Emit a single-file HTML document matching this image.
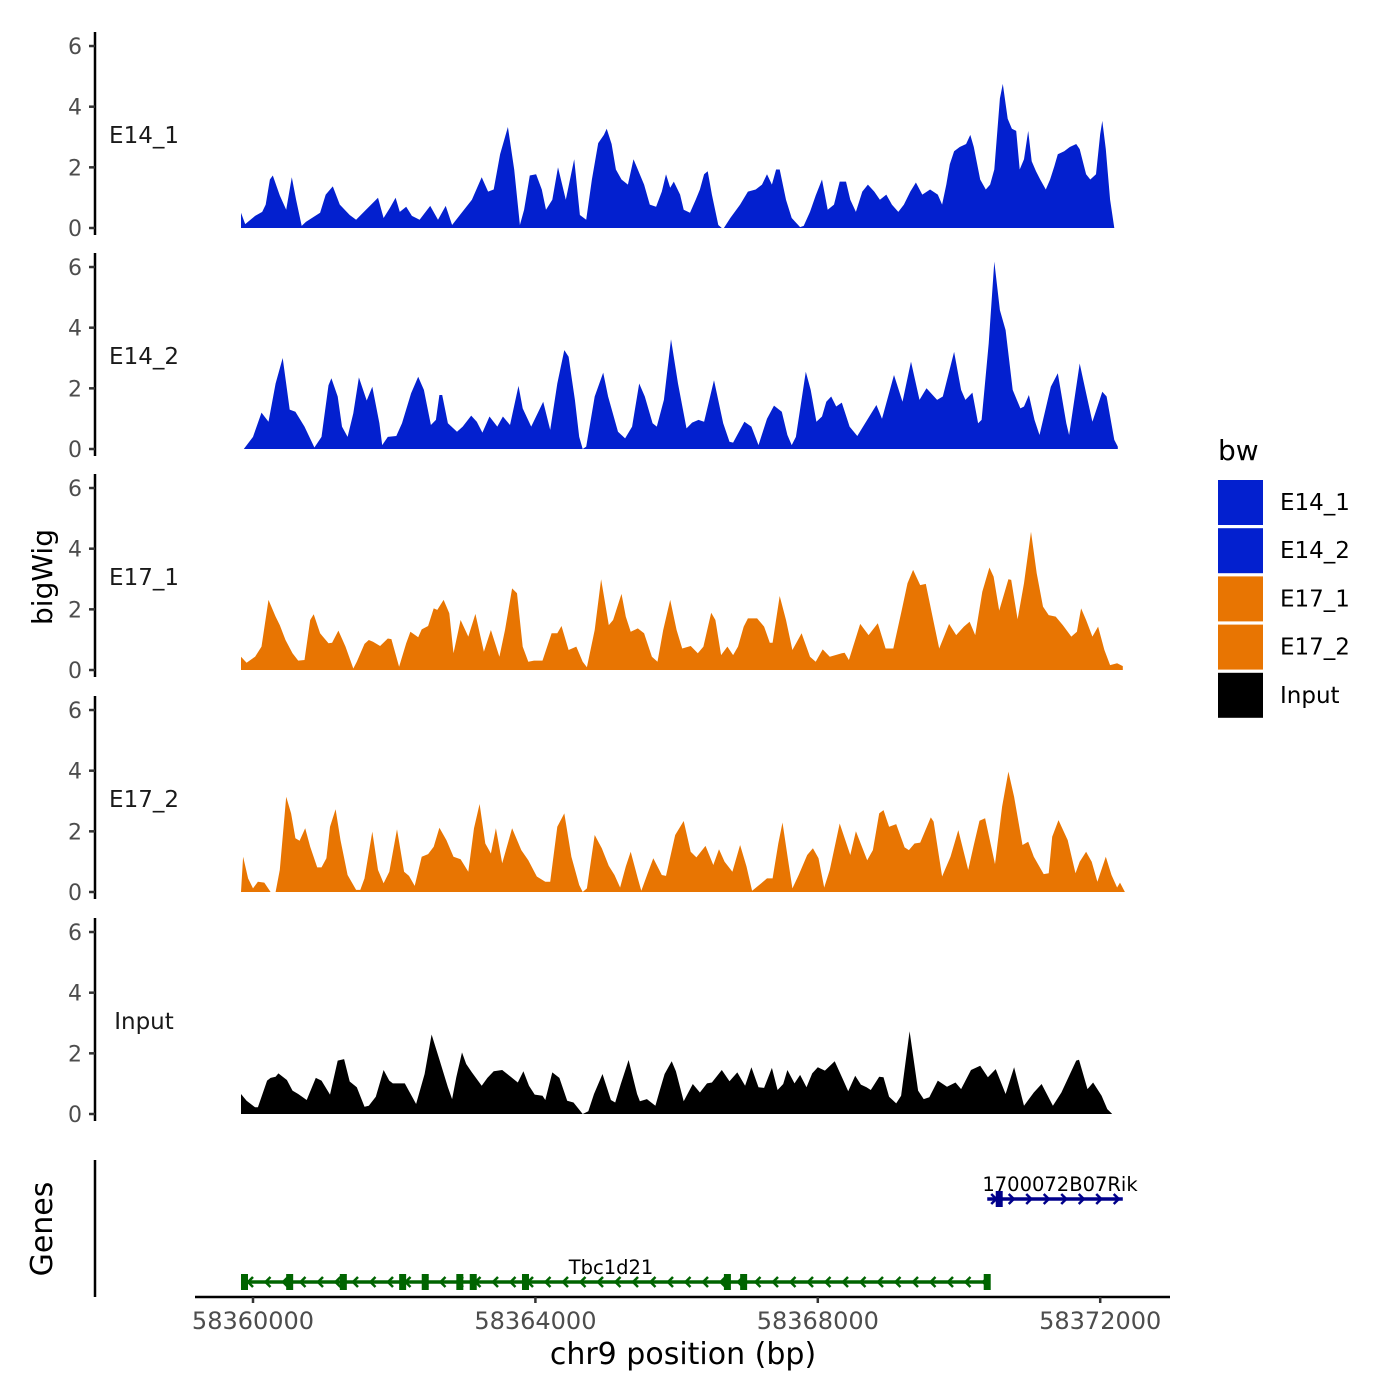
<!DOCTYPE html>
<html><head><meta charset="utf-8"><style>
body{margin:0;background:#fff}
svg{display:block;font-family:"DejaVu Sans","Liberation Sans",sans-serif}
</style></head><body>
<svg id="chart" width="1400" height="1400" viewBox="0 0 1400 1400"></svg>
<script>
// ---- data (positions in kb from 58360000, values = coverage) ----
const trackNames=["E14_1","E14_2","E17_1","E17_2","Input"];
const trackColors=["#0320cf","#0320cf","#e87502","#e87502","#000000"];
const e14_1Pos=[-0.17,-0.11,0.03,0.13,0.18,0.24,0.28,0.38,0.47,0.55,0.61,0.69,0.75,0.95,1.03,1.13,1.23,1.37,1.46,1.6,1.77,1.85,1.94,2.02,2.08,2.17,2.25,2.36,2.51,2.62,2.73,2.82,2.93,3.1,3.24,3.33,3.41,3.5,3.61,3.7,3.78,3.84,3.92,4.01,4.09,4.15,4.24,4.32,4.43,4.55,4.63,4.72,4.8,4.89,4.97,5.01,5.08,5.14,5.22,5.31,5.39,5.45,5.54,5.62,5.71,5.79,5.85,5.91,5.96,6.05,6.1,6.19,6.27,6.33,6.39,6.44,6.5,6.59,6.64,6.67,6.76,6.9,7.01,7.12,7.21,7.28,7.35,7.41,7.46,7.55,7.63,7.75,7.8,7.89,7.97,8.06,8.14,8.23,8.31,8.4,8.46,8.54,8.63,8.71,8.8,8.88,8.97,9.05,9.14,9.22,9.31,9.39,9.48,9.59,9.7,9.76,9.82,9.87,9.93,10.01,10.1,10.16,10.21,10.3,10.38,10.44,10.5,10.58,10.62,10.69,10.75,10.81,10.86,10.92,10.98,11.03,11.09,11.15,11.23,11.29,11.35,11.4,11.49,11.57,11.66,11.71,11.8,11.86,11.94,12.0,12.03,12.08,12.14,12.2];
const e14_1Val=[0.5,0.13,0.4,0.53,0.77,1.6,1.73,1.07,0.6,1.67,0.93,0.07,0.2,0.5,1.1,1.37,0.77,0.43,0.27,0.6,1.0,0.33,0.67,1.0,0.53,0.7,0.4,0.27,0.73,0.27,0.73,0.1,0.43,0.93,1.67,1.2,1.27,2.43,3.33,1.93,0.1,0.6,1.73,1.77,1.27,0.6,0.93,2.0,0.93,2.27,0.43,0.27,1.6,2.8,3.07,3.27,2.77,1.93,1.6,1.43,2.27,1.93,1.43,0.77,0.7,1.2,1.77,1.33,1.53,1.1,0.6,0.5,0.93,1.27,1.77,1.87,1.1,0.1,0,0,0.33,0.77,1.2,1.27,1.43,1.77,1.43,1.93,1.93,0.93,0.33,0.03,0.07,0.53,1.07,1.6,0.6,0.77,1.53,1.53,0.93,0.53,1.2,1.43,1.2,0.93,1.1,0.77,0.53,0.77,1.2,1.5,1.1,1.27,1.1,0.77,1.43,2.1,2.53,2.67,2.77,3.07,2.67,1.6,1.27,1.43,1.93,4.27,4.75,3.6,3.27,3.2,1.93,2.27,3.2,2.2,1.87,1.6,1.27,1.6,2.03,2.43,2.53,2.67,2.77,2.6,1.77,1.6,1.77,3.1,3.53,2.6,0.93,0];
const e14_2Pos=[-0.13,0.0,0.12,0.22,0.32,0.42,0.52,0.6,0.73,0.87,0.97,1.07,1.11,1.2,1.26,1.34,1.42,1.5,1.61,1.69,1.79,1.83,1.91,2.03,2.11,2.24,2.34,2.42,2.52,2.59,2.64,2.68,2.76,2.89,2.97,3.09,3.17,3.25,3.35,3.46,3.54,3.64,3.76,3.82,3.94,4.11,4.21,4.31,4.41,4.47,4.56,4.62,4.67,4.72,4.84,4.96,5.03,5.17,5.27,5.37,5.47,5.55,5.66,5.72,5.82,5.92,6.02,6.14,6.22,6.31,6.39,6.53,6.66,6.75,6.8,6.96,7.06,7.16,7.28,7.38,7.49,7.57,7.63,7.69,7.83,7.9,7.98,8.06,8.12,8.19,8.26,8.34,8.45,8.56,8.71,8.83,8.91,9.08,9.2,9.32,9.44,9.54,9.69,9.77,9.93,10.03,10.09,10.19,10.27,10.32,10.42,10.5,10.58,10.66,10.76,10.87,10.92,10.99,11.07,11.14,11.3,11.4,11.52,11.56,11.71,11.79,11.89,12.03,12.09,12.2,12.25];
const e14_2Val=[0,0.4,1.2,0.9,2.16,3.0,1.3,1.23,0.74,0.05,0.4,2.1,2.33,1.73,0.74,0.4,1.18,2.36,1.6,2.05,0.85,0.13,0.4,0.43,0.85,1.84,2.38,1.95,0.79,0.96,1.78,1.78,0.85,0.57,0.74,1.1,0.9,0.54,1.07,0.74,1.07,0.79,2.08,1.34,0.74,1.56,0.63,2.16,3.26,3.04,1.62,0.4,0,0.08,1.73,2.52,1.73,0.57,0.35,0.74,2.16,1.73,0.85,0.74,1.62,3.62,2.16,0.68,0.87,0.96,0.9,2.27,0.85,0.24,0.21,0.9,0.74,0.13,1.0,1.43,1.23,0.46,0.13,0.4,2.55,1.95,0.9,1.07,1.56,1.73,1.4,1.53,0.74,0.43,1.0,1.45,1.0,2.44,1.56,2.88,1.62,2.0,1.62,1.73,3.2,1.95,1.62,1.86,0.85,0.96,3.48,6.18,4.58,3.92,1.95,1.34,1.4,1.78,0.96,0.46,2.05,2.5,0.85,0.46,2.82,1.95,0.9,1.89,1.73,0.3,0.08];
const e17_1Pos=[-0.17,-0.09,0.03,0.12,0.22,0.32,0.38,0.46,0.56,0.64,0.73,0.81,0.86,0.95,1.07,1.12,1.21,1.31,1.42,1.47,1.58,1.64,1.7,1.8,1.91,1.96,2.07,2.17,2.23,2.34,2.39,2.48,2.56,2.61,2.7,2.78,2.84,2.94,3.05,3.15,3.27,3.37,3.49,3.57,3.67,3.74,3.82,3.9,3.98,4.1,4.23,4.31,4.37,4.47,4.58,4.67,4.73,4.84,4.93,5.04,5.1,5.22,5.28,5.35,5.45,5.54,5.65,5.73,5.81,5.91,6.0,6.08,6.2,6.3,6.38,6.49,6.55,6.63,6.72,6.8,6.87,6.95,7.01,7.14,7.24,7.32,7.36,7.46,7.55,7.64,7.77,7.89,7.97,8.07,8.17,8.34,8.38,8.44,8.6,8.72,8.85,8.96,9.07,9.19,9.27,9.35,9.45,9.53,9.64,9.72,9.86,9.96,10.07,10.15,10.23,10.33,10.43,10.49,10.57,10.7,10.74,10.83,10.92,11.02,11.1,11.19,11.27,11.37,11.47,11.59,11.67,11.73,11.8,11.89,11.97,12.06,12.14,12.24,12.32];
const e17_1Val=[0.44,0.24,0.44,0.77,2.31,1.76,1.48,0.99,0.55,0.31,0.33,1.65,1.84,1.21,0.88,0.9,1.3,0.77,0.05,0.27,0.86,0.99,0.93,0.79,1.04,1.02,0.11,0.88,1.26,1.08,1.34,1.45,2.03,1.98,2.31,1.87,0.55,1.65,1.1,1.85,0.6,1.32,0.44,1.32,2.69,2.53,0.77,0.27,0.31,0.31,1.21,1.21,1.45,0.66,0.77,0.27,0.09,1.32,2.99,1.48,1.65,2.51,1.76,1.26,1.37,1.21,0.44,0.27,1.32,2.31,1.32,0.71,0.79,0.55,0.77,1.89,1.65,0.49,0.77,0.49,0.77,1.43,1.7,1.7,1.43,0.9,0.9,2.44,1.65,0.66,1.21,0.44,0.27,0.68,0.44,0.55,0.57,0.33,1.52,1.15,1.54,0.71,0.71,1.98,2.86,3.3,2.8,2.84,1.59,0.71,1.52,1.15,1.43,1.59,1.15,2.58,3.38,3.08,1.96,2.99,2.97,1.67,2.86,4.56,3.19,2.09,1.81,1.76,1.48,1.1,1.26,2.03,1.65,1.1,1.43,0.66,0.16,0.22,0.13];
const e17_2Pos=[-0.17,-0.14,-0.07,0,0.07,0.16,0.25,0.32,0.38,0.47,0.54,0.6,0.66,0.74,0.81,0.91,0.97,1.04,1.09,1.17,1.24,1.34,1.46,1.52,1.58,1.69,1.77,1.85,1.93,2.04,2.14,2.21,2.29,2.39,2.48,2.56,2.64,2.74,2.84,2.94,3.05,3.13,3.21,3.29,3.37,3.44,3.53,3.67,3.8,3.9,4.02,4.14,4.21,4.31,4.41,4.51,4.62,4.67,4.73,4.84,4.94,5.04,5.12,5.2,5.28,5.35,5.45,5.5,5.59,5.67,5.79,5.85,5.98,6.1,6.2,6.28,6.41,6.52,6.6,6.68,6.79,6.9,6.99,7.07,7.2,7.28,7.36,7.44,7.5,7.58,7.64,7.73,7.85,7.93,8.01,8.09,8.17,8.31,8.46,8.54,8.7,8.78,8.87,8.93,9.01,9.11,9.23,9.29,9.37,9.45,9.6,9.64,9.76,9.88,9.99,10.13,10.21,10.29,10.37,10.51,10.61,10.7,10.78,10.9,10.98,11.06,11.2,11.27,11.32,11.41,11.54,11.65,11.71,11.8,11.88,11.96,12.08,12.16,12.24,12.28,12.35];
const e17_2Val=[0,1.16,0.45,0.12,0.34,0.31,0,0,0.73,3.14,2.59,1.77,1.69,2.1,1.49,0.81,0.81,1.11,2.15,2.73,1.71,0.56,0.07,0.07,0.45,1.99,0.73,0.29,0.67,2.07,0.67,0.53,0.2,1.16,1.25,1.49,2.12,1.71,1.16,1.08,0.67,2.1,2.9,1.6,1.27,2.1,0.95,2.1,1.38,1.05,0.51,0.34,0.34,2.15,2.59,1.16,0.23,0,0.12,1.88,1.44,0.86,0.56,0.15,0.84,1.33,0.45,0.04,0.62,1.11,0.56,0.53,1.88,2.34,1.33,1.14,1.52,0.89,1.41,1.0,0.67,1.55,0.84,0.04,0.29,0.45,0.45,1.6,2.29,1.05,0.12,0.56,1.22,1.44,1.11,0.15,0.73,2.26,1.22,2.0,1.05,1.38,2.59,2.7,2.15,2.24,1.47,1.38,1.6,1.63,2.46,2.32,0.51,1.16,2.04,0.73,1.55,2.35,2.43,0.92,2.81,3.97,3.14,1.55,1.66,1.16,0.59,0.62,1.82,2.37,1.71,0.62,1.0,1.33,1.0,0.34,1.16,0.56,0.15,0.31,0];
const inputPos=[-0.17,-0.09,0.03,0.07,0.2,0.25,0.32,0.36,0.48,0.56,0.64,0.76,0.89,0.97,1.09,1.2,1.29,1.37,1.47,1.58,1.64,1.74,1.85,1.93,1.98,2.15,2.31,2.43,2.53,2.63,2.76,2.82,2.88,2.96,3.02,3.1,3.24,3.32,3.41,3.53,3.65,3.75,3.83,3.91,3.99,4.1,4.14,4.24,4.34,4.45,4.54,4.67,4.75,4.83,4.95,5.07,5.13,5.21,5.32,5.44,5.48,5.58,5.7,5.76,5.83,5.93,5.99,6.1,6.23,6.33,6.43,6.5,6.64,6.75,6.86,6.97,7.06,7.16,7.24,7.35,7.43,7.51,7.57,7.67,7.75,7.84,7.92,8.0,8.1,8.24,8.36,8.43,8.53,8.61,8.69,8.75,8.87,8.93,9.01,9.11,9.18,9.3,9.42,9.5,9.58,9.7,9.83,9.95,10.03,10.17,10.3,10.41,10.52,10.66,10.78,10.92,11.06,11.17,11.33,11.45,11.66,11.7,11.82,11.9,12.02,12.1,12.17];
const inputVal=[0.66,0.44,0.22,0.22,1.1,1.19,1.23,1.34,1.12,0.77,0.66,0.46,1.19,1.1,0.64,1.76,1.81,1.07,0.88,0.24,0.27,0.57,1.45,1.1,1.01,1.01,0.33,1.32,2.62,1.87,0.88,0.49,1.21,2.03,1.65,1.37,0.93,1.19,1.41,1.45,1.23,1.04,1.41,0.93,0.64,0.6,0.46,1.37,1.19,0.44,0.38,0,0.09,0.66,1.32,0.46,0.38,0.99,1.78,0.66,0.42,0.49,0.27,0.77,1.32,1.74,1.41,0.42,0.99,0.71,1.01,1.04,1.45,1.08,1.37,0.93,1.54,0.88,0.86,1.52,0.79,0.99,1.45,1.01,1.29,0.88,1.34,1.54,1.43,1.74,1.12,0.75,1.26,0.97,0.88,0.79,1.23,1.21,0.57,0.35,0.6,2.73,0.77,0.49,0.55,1.1,0.9,1.04,0.82,1.45,1.59,1.21,1.48,0.66,1.54,0.27,0.71,0.99,0.27,0.71,1.76,1.79,0.82,1.04,0.6,0.16,0];
const yTicks=[0,2,4,6];
const xTicks=[58360000,58364000,58368000,58372000];
// genes
const tbcStart=-0.17, tbcEnd=10.42;
const tbcExons=[-0.17,0.47,1.23,2.07,2.39,2.88,3.07,3.81,6.67,6.9,10.35];
const rikStart=10.4, rikEnd=12.32;
const rikExons=[10.52];

const NS="http://www.w3.org/2000/svg";
const svg=document.getElementById('chart');
function mk(tag,attrs,parent){const e=document.createElementNS(NS,tag);for(const k in attrs)e.setAttribute(k,attrs[k]);(parent||svg).appendChild(e);return e;}
function xS(kb){return 253+kb*70.6;}
function xBp(bp){return xS((bp-58360000)/1000);}
const baselines=[228,449,670,892,1114];
const unit=30.33;
const posArr=[e14_1Pos,e14_2Pos,e17_1Pos,e17_2Pos,inputPos];
const valArr=[e14_1Val,e14_2Val,e17_1Val,e17_2Val,inputVal];

trackNames.forEach((nm,i)=>{
  const b=baselines[i];
  const yS=v=>b-v*unit;
  const g=mk('g',{});
  
  
  const ax=mk('line',{x1:95,x2:95,y1:b-196,y2:b+7,stroke:'#000','stroke-width':2.5},g);
  
  
  yTicks.forEach(t=>{
    const tk=mk('line',{x1:89,x2:95,y1:yS(t),y2:yS(t),stroke:'#333','stroke-width':2.5},g);
    
    
    const tl=mk('text',{x:82,y:yS(t)+8,'text-anchor':'end','font-size':22,fill:'#4d4d4d'},g);
    tl.textContent=t;
    
    
  });
  const lab=mk('text',{x:144,y:b-85,'text-anchor':'middle','font-size':23,fill:'#1a1a1a'},g);
  lab.textContent=nm;
  
  
  const P=posArr[i],V=valArr[i];
  let d='M'+xS(P[0]).toFixed(1)+','+b;
  for(let k=0;k<P.length;k++)d+=' L'+xS(P[k]).toFixed(1)+','+yS(V[k]).toFixed(1);
  d+=' L'+xS(P[P.length-1]).toFixed(1)+','+b+' Z';
  const area=mk('path',{d:d,fill:trackColors[i]},g);
  
  
});

const yt=mk('text',{x:0,y:0,transform:'translate(52,577) rotate(-90)','text-anchor':'middle','font-size':28,fill:'#000'});
yt.textContent='bigWig';


const gt=mk('text',{x:0,y:0,transform:'translate(52,1229) rotate(-90)','text-anchor':'middle','font-size':30,fill:'#000'});
gt.textContent='Genes';


const ga=mk('line',{x1:95,x2:95,y1:1160,y2:1297,stroke:'#000','stroke-width':2.5});



function drawGene(name,s,e,exons,y,color,dir,lx,ly){
  const g=mk('g',{});
  
  
  const l=mk('line',{x1:xS(s),x2:xS(e),y1:y,y2:y,stroke:color,'stroke-width':3.5},g);
  
  
  for(let x=xS(s)+8;x<xS(e)-4;x+=17.5){
    const c=mk('path',{d:dir<0?`M${x+4},${y-5} L${x-1},${y} L${x+4},${y+5}`:`M${x-4},${y-5} L${x+1},${y} L${x-4},${y+5}`,fill:'none',stroke:color,'stroke-width':2.5},g);
    
    
  }
  exons.forEach(p=>{
    const r=mk('rect',{x:xS(p),y:y-8,width:7,height:16,fill:color},g);
    
    
  });
  const t=mk('text',{x:lx,y:ly,'text-anchor':'middle','font-size':19.5,fill:'#000'},g);
  t.textContent=name;
  
  
}
drawGene('Tbc1d21',tbcStart,tbcEnd,tbcExons,1282,'#006400',-1,611,1274);
drawGene('1700072B07Rik',rikStart,rikEnd,rikExons,1199,'#00008b',1,1060,1191);

const xa=mk('line',{x1:195,x2:1170,y1:1297,y2:1297,stroke:'#000','stroke-width':2.5});


xTicks.forEach(t=>{
  const tk=mk('line',{x1:xBp(t),x2:xBp(t),y1:1297,y2:1303,stroke:'#333','stroke-width':2.5});
  
  
  const tl=mk('text',{x:xBp(t),y:1329,'text-anchor':'middle','font-size':24,fill:'#4d4d4d'});
  tl.textContent=t;
  
  
});
const xt=mk('text',{x:683,y:1364,'text-anchor':'middle','font-size':30,fill:'#000'});
xt.textContent='chr9 position (bp)';



const lg=mk('g',{});


const lt=mk('text',{x:1218,y:460,'font-size':28,fill:'#000'},lg);
lt.textContent='bw';


trackNames.forEach((nm,i)=>{
  const y=480+i*48.2;
  const r=mk('rect',{x:1218,y:y,width:45,height:45,fill:trackColors[i]},lg);
  
  
  const t=mk('text',{x:1280,y:y+30,'font-size':23,fill:'#000'},lg);
  t.textContent=nm;
  
  
});
</script>
</body></html>
